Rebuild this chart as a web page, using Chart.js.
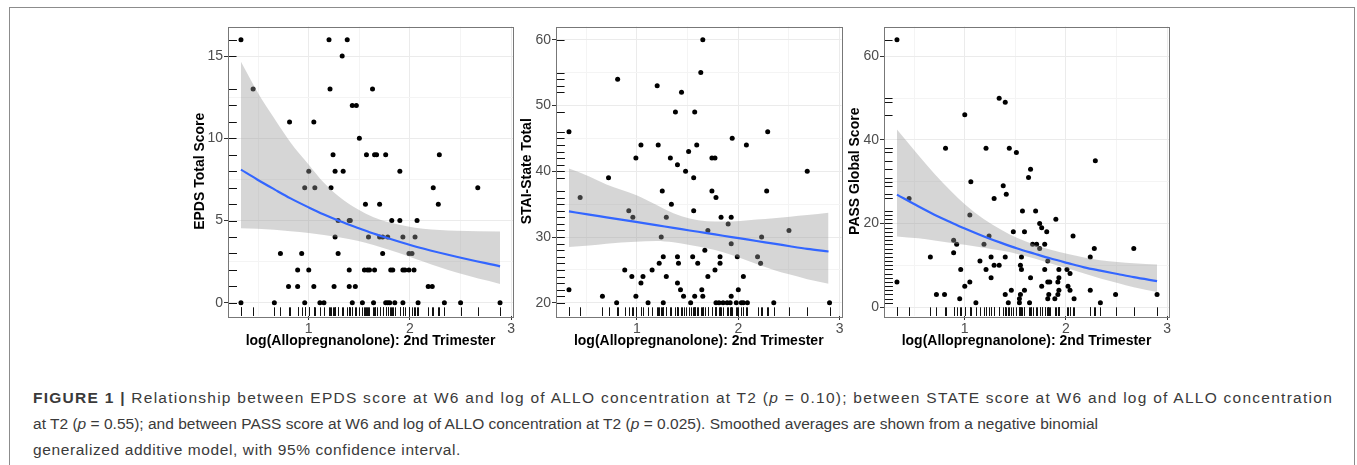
<!DOCTYPE html>
<html>
<head>
<meta charset="utf-8">
<title>Figure 1</title>
<script src="https://cdn.jsdelivr.net/npm/chart.js@4.4.1/dist/chart.umd.min.js"></script>
<style>
  html, body { margin: 0; padding: 0; background: #fff; }
  body { width: 1357px; height: 465px; position: relative; overflow: hidden;
         font-family: "Liberation Sans", Arial, sans-serif; }
  #frame { position: absolute; left: 9px; top: 7px; width: 1346px; height: 520px;
           border: 1px solid #8c8c8c; box-sizing: border-box; }
  canvas { position: absolute; top: 16px; }
  #caption { position: absolute; left: 33px; top: 385px; font-size: 15.5px; line-height: 26px;
             color: #3a3a3a; }
  #caption .ln { display: block; height: 26px; white-space: nowrap; }
  #caption .ln span { display: inline-block; }
</style>
</head>
<body>
<div id="frame"></div>
<canvas id="epdsChart" width="330" height="334" style="left:190px"></canvas>
<canvas id="staiChart" width="330" height="334" style="left:517px"></canvas>
<canvas id="passChart" width="330" height="334" style="left:845px"></canvas>
<div id="caption">
  <div class="ln" data-w="1300"><span><b>FIGURE 1</b> <b>|</b> Relationship between EPDS score at W6 and log of ALLO concentration at T2 (<i>p</i> = 0.10); between STATE score at W6 and log of ALLO concentration</span></div>
  <div class="ln" data-w="1065"><span>at T2 (<i>p</i> = 0.55); and between PASS score at W6 and log of ALLO concentration at T2 (<i>p</i> = 0.025). Smoothed averages are shown from a negative binomial</span></div>
  <div class="ln" data-w="428"><span>generalized additive model, with 95% confidence interval.</span></div>
</div>

<script>
// shared x axis
const xTitle = 'log(Allopregnanolone): 2nd Trimester';
const xTicks = [0.5, 1, 1.5, 2, 2.5, 3];
const xLabels = [1, 2, 3];

// ---- EPDS panel ----
const epdsX = [
  0.33, 1.20, 1.38,
  1.33,
  0.45, 1.21, 1.63,
  1.43, 1.47,
  0.81, 1.05,
  1.50,
  1.24, 1.57, 1.65, 1.67, 1.76, 2.29,
  1.00, 1.26, 1.34, 1.90,
  0.96, 1.06, 1.22, 2.23, 2.67,
  1.56, 1.70, 2.28,
  1.29, 1.40, 1.41, 1.82, 1.90, 2.07,
  1.26, 1.59, 1.70, 1.73, 1.78, 1.93, 2.05,
  0.72, 0.93, 1.29, 1.73, 1.99, 2.02,
  0.89, 1.00, 1.40, 1.55, 1.58, 1.60, 1.65, 1.81, 1.83, 1.93, 1.95, 1.99, 2.04,
  0.80, 0.89, 1.05, 1.25, 1.40, 1.46, 2.18, 2.22,
  0.33, 0.66, 0.96, 1.11, 1.15, 1.43, 1.53, 1.64, 1.76, 1.78, 1.80, 1.85, 1.93, 2.08, 2.34, 2.50, 2.89
];
const epdsY = [
  16, 16, 16,
  15,
  13, 13, 13,
  12, 12,
  11, 11,
  10,
  9, 9, 9, 9, 9, 9,
  8, 8, 8, 8,
  7, 7, 7, 7, 7,
  6, 6, 6,
  5, 5, 5, 5, 5, 5,
  4, 4, 4, 4, 4, 4, 4,
  3, 3, 3, 3, 3, 3,
  2, 2, 2, 2, 2, 2, 2, 2, 2, 2, 2, 2, 2,
  1, 1, 1, 1, 1, 1, 1, 1,
  0, 0, 0, 0, 0, 0, 0, 0, 0, 0, 0, 0, 0, 0, 0, 0, 0
];
const epdsFitX = [0.33, 0.49, 0.66, 0.82, 1.00, 1.15, 1.31, 1.48, 1.64, 1.80, 1.97, 2.13, 2.46, 2.89];
const epdsFit  = [8.1, 7.5, 6.9, 6.35, 5.8, 5.37, 4.96, 4.57, 4.22, 3.9, 3.58, 3.3, 2.8, 2.22];
const epdsHi   = [14.65, 12.85, 11.2, 9.75, 8.4, 7.3, 6.4, 5.7, 5.2, 4.88, 4.65, 4.5, 4.38, 4.34];
const epdsLo   = [4.53, 4.5, 4.44, 4.35, 4.24, 4.12, 3.97, 3.77, 3.52, 3.22, 2.87, 2.52, 1.84, 1.15];
const epdsTicks = [0, 2.5, 5, 7.5, 10, 12.5, 15];
const epdsLabels = [0, 5, 10, 15];

// ---- STAI-State panel ----
const staiX = [
  1.65,
  1.63,
  0.81,
  1.20,
  1.44,
  1.38, 1.57,
  0.33, 2.29,
  1.94,
  1.04, 1.21, 1.59, 2.08,
  1.51,
  0.99, 1.33, 1.74, 1.77,
  1.40,
  1.48, 2.68,
  0.72, 1.56,
  1.25, 1.74, 2.28,
  0.44, 1.78,
  1.34,
  0.92, 1.56,
  0.96, 1.29, 1.83, 1.93,
  1.90,
  1.70, 2.50,
  1.24, 2.23,
  1.93,
  1.67,
  1.26, 1.40, 1.55, 1.82, 1.99, 2.19,
  1.22, 1.41, 1.60, 1.82, 2.22,
  0.88, 1.15, 1.77,
  0.95, 1.06, 1.29, 1.70, 2.05,
  1.04, 1.40,
  0.33, 1.43, 1.64, 2.00,
  0.66, 0.99, 1.46, 1.57, 1.65, 1.93,
  0.80, 1.11, 1.26, 1.53, 1.78, 1.81, 1.85, 1.89, 1.92, 1.98, 2.03, 2.05, 2.09, 2.35, 2.90
];
const staiY = [
  60,
  55,
  54,
  53,
  52,
  49, 49,
  46, 46,
  45,
  44, 44, 44, 44,
  43,
  42, 42, 42, 42,
  41,
  40, 40,
  39, 39,
  37, 37, 37,
  36, 36,
  35,
  34, 34,
  33, 33, 33, 33,
  32,
  31, 31,
  30, 30,
  29,
  28,
  27, 27, 27, 27, 27, 27,
  26, 26, 26, 26, 26,
  25, 25, 25,
  24, 24, 24, 24, 24,
  23, 23,
  22, 22, 22, 22,
  21, 21, 21, 21, 21, 21,
  20, 20, 20, 20, 20, 20, 20, 20, 20, 20, 20, 20, 20, 20, 20
];
const staiFitX = [0.33, 0.53, 0.70, 0.99, 1.19, 1.36, 1.52, 1.69, 1.85, 2.02, 2.18, 2.35, 2.51, 2.68, 2.89];
const staiFit  = [33.9, 33.4, 33.0, 32.3, 31.8, 31.4, 31.0, 30.6, 30.2, 29.8, 29.4, 29.0, 28.6, 28.2, 27.8];
const staiHi   = [40.4, 39.2, 38.0, 36.4, 34.9, 33.6, 32.8, 32.4, 32.35, 32.45, 32.65, 32.85, 33.1, 33.35, 33.7];
const staiLo   = [28.5, 28.7, 29.0, 29.3, 29.4, 29.2, 28.8, 28.3, 27.7, 26.8, 25.9, 25.0, 24.3, 23.6, 22.9];
const staiTicks = [20, 25, 30, 35, 40, 45, 50, 55, 60];
const staiLabels = [20, 30, 40, 50, 60];

// ---- PASS panel ----
const passX = [
  0.33,
  1.34,
  1.40,
  1.00,
  0.81, 1.21, 1.44,
  1.51,
  2.29,
  1.65,
  1.63,
  1.06,
  1.38,
  1.41,
  0.45, 1.29,
  1.57, 1.70,
  1.05,
  1.90,
  1.74,
  1.76,
  1.48, 1.59, 1.81,
  1.24, 2.07,
  0.89,
  0.92, 1.19, 1.67, 1.71, 1.79,
  1.74, 2.28, 2.67,
  0.89,
  0.66, 1.26, 1.40, 1.56, 2.24,
  1.15, 1.82,
  1.29, 1.34, 1.55,
  0.96, 1.21, 1.56, 1.79, 1.93, 2.01,
  2.04,
  1.26, 1.65, 1.93,
  0.33, 1.05, 1.82, 1.84, 1.92,
  1.00, 1.76, 2.02,
  1.46, 1.59, 1.93, 2.04, 2.24,
  0.72, 0.80, 1.40, 1.55, 1.83, 1.92, 2.49, 2.90,
  0.95, 1.54, 1.82, 1.89, 2.08,
  1.11, 1.43, 1.54, 1.64, 2.34
];
const passY = [
  64,
  50,
  49,
  46,
  38, 38, 38,
  37,
  35,
  33,
  31,
  30,
  29,
  27,
  26, 26,
  23, 23,
  22,
  21,
  20,
  19,
  18, 18, 18,
  17, 17,
  16,
  15, 15, 15, 15, 15,
  14, 14, 14,
  13,
  12, 12, 12, 12, 12,
  11, 11,
  10, 10, 10,
  9, 9, 9, 9, 9, 9,
  8,
  7, 7, 7,
  6, 6, 6, 6, 6,
  5, 5, 5,
  4, 4, 4, 4, 4,
  3, 3, 3, 3, 3, 3, 3, 3,
  2, 2, 2, 2, 2,
  1, 1, 1, 1, 1
];
const passFitX = [0.33, 0.54, 0.70, 0.87, 1.00, 1.19, 1.36, 1.52, 1.69, 1.85, 2.02, 2.18, 2.34, 2.51, 2.67, 2.90];
const passFit  = [26.9, 24.1, 22.1, 20.2, 18.8, 16.9, 15.35, 14.0, 12.75, 11.6, 10.5, 9.5, 8.7, 7.9, 7.15, 6.2];
const passHi   = [42.5, 36.4, 31.9, 27.6, 24.6, 21.0, 18.5, 16.5, 14.9, 13.7, 12.7, 11.85, 11.2, 10.8, 10.5, 10.2];
const passLo   = [16.9, 16.45, 15.95, 15.35, 14.9, 14.2, 13.5, 12.7, 11.6, 10.4, 9.2, 8.0, 6.85, 5.75, 4.75, 3.6];
const passTicks = [0, 10, 20, 30, 40, 50, 60];
const passLabels = [0, 20, 40, 60];

const FONT = '"Liberation Sans", Arial, sans-serif';
Chart.defaults.font.family = FONT;

// stretch each caption line evenly to the width it has in the printed figure
document.querySelectorAll('#caption .ln').forEach(line => {
  const span = line.querySelector('span');
  const chars = span.textContent.length;
  const extra = (+line.dataset.w - span.getBoundingClientRect().width) / chars;
  if (extra > 0) span.style.letterSpacing = extra.toFixed(3) + 'px';
});

// rug marks + panel border, drawn from the point dataset through the scales
const rugPlugin = {
  id: 'rug',
  afterDatasetsDraw(chart) {
    const { ctx, chartArea: a, scales: { x, y } } = chart;
    const pts = chart.data.datasets[3].data;
    const lenX = 0.03 * (a.bottom - a.top);
    const lenY = 0.03 * (a.right - a.left);
    ctx.save();
    ctx.strokeStyle = '#111';
    ctx.lineWidth = 1;
    ctx.beginPath();
    pts.forEach(p => {
      const px = Math.round(x.getPixelForValue(p.x)) + 0.5;
      ctx.moveTo(px, a.bottom);
      ctx.lineTo(px, a.bottom - lenX);
      const py = Math.round(y.getPixelForValue(p.y)) + 0.5;
      ctx.moveTo(a.left, py);
      ctx.lineTo(a.left + lenY, py);
    });
    ctx.stroke();
    ctx.strokeStyle = '#777';
    ctx.strokeRect(Math.round(a.left) + 0.5, Math.round(a.top) + 0.5,
                   Math.round(a.right - a.left), Math.round(a.bottom - a.top));
    ctx.restore();
  }
};

function makePanel(id, p) {
  const pts = p.x.map((v, i) => ({ x: v, y: p.y[i] }));
  const curve = arr => p.fitX.map((v, i) => ({ x: v, y: arr[i] }));
  const tickFont = { size: 14, family: FONT };
  const titleFont = { size: 14, weight: 'bold', family: FONT };

  return new Chart(document.getElementById(id), {
    type: 'scatter',
    data: {
      datasets: [
        { data: curve(p.fit), showLine: true, borderColor: '#3366FF', borderWidth: 2.2,
          pointRadius: 0, cubicInterpolationMode: 'monotone', fill: false },
        { data: curve(p.hi), showLine: true, borderWidth: 0, borderColor: 'rgba(0,0,0,0)',
          pointRadius: 0, cubicInterpolationMode: 'monotone',
          fill: '+1', backgroundColor: 'rgba(153,153,153,0.4)' },
        { data: curve(p.lo), showLine: true, borderWidth: 0, borderColor: 'rgba(0,0,0,0)',
          pointRadius: 0, cubicInterpolationMode: 'monotone', fill: false },
        { data: pts, pointRadius: 2.5, backgroundColor: '#000', borderWidth: 0 }
      ]
    },
    options: {
      responsive: false,
      animation: false,
      events: [],
      layout: { padding: { left: 0, top: p.padTop, right: p.padRight, bottom: 0 } },
      plugins: { legend: { display: false }, tooltip: { enabled: false } },
      scales: {
        x: {
          type: 'linear', min: 0.202, max: 3.018,
          afterBuildTicks: s => { s.ticks = xTicks.map(v => ({ value: v })); },
          afterFit: s => { s.height = 34; },
          ticks: {
            autoSkip: false, maxRotation: 0, padding: 1, color: '#4d4d4d', font: tickFont,
            callback: v => xLabels.includes(v) ? String(v) : ''
          },
          grid: {
            tickLength: 4,
            color: c => xLabels.includes(c.tick.value) ? '#ebebeb' : '#f4f4f4',
            tickColor: c => xLabels.includes(c.tick.value) ? '#333' : 'rgba(0,0,0,0)'
          },
          border: { display: false },
          title: { display: true, text: xTitle, color: '#000', font: titleFont,
                   padding: { top: 0, bottom: 0 } }
        },
        y: {
          type: 'linear', min: p.yMin, max: p.yMax,
          afterBuildTicks: s => { s.ticks = p.ticks.map(v => ({ value: v })); },
          afterFit: s => { s.width = p.axisW; },
          ticks: {
            autoSkip: false, padding: 1, color: '#4d4d4d', font: tickFont,
            callback: v => p.labels.includes(v) ? String(v) : ''
          },
          grid: {
            tickLength: 4,
            color: c => p.labels.includes(c.tick.value) ? '#ebebeb' : '#f4f4f4',
            tickColor: c => p.labels.includes(c.tick.value) ? '#333' : 'rgba(0,0,0,0)'
          },
          border: { display: false },
          title: { display: true, text: p.title, color: '#000', font: titleFont,
                   padding: { top: 2, bottom: 0 } }
        }
      }
    },
    plugins: [rugPlugin]
  });
}

makePanel('epdsChart', {
  x: epdsX, y: epdsY, fitX: epdsFitX, fit: epdsFit, hi: epdsHi, lo: epdsLo,
  ticks: epdsTicks, labels: epdsLabels, yMin: -0.8, yMax: 16.8,
  title: 'EPDS Total Score', axisW: 38, padTop: 10.5, padRight: 7
});
makePanel('staiChart', {
  x: staiX, y: staiY, fitX: staiFitX, fit: staiFit, hi: staiHi, lo: staiLo,
  ticks: staiTicks, labels: staiLabels, yMin: 18, yMax: 62,
  title: 'STAI-State Total', axisW: 39, padTop: 10.5, padRight: 5.5
});
makePanel('passChart', {
  x: passX, y: passY, fitX: passFitX, fit: passFit, hi: passHi, lo: passLo,
  ticks: passTicks, labels: passLabels, yMin: -2.15, yMax: 67.15,
  title: 'PASS Global Score', axisW: 39, padTop: 10.5, padRight: 6
});
</script>
</body>
</html>
